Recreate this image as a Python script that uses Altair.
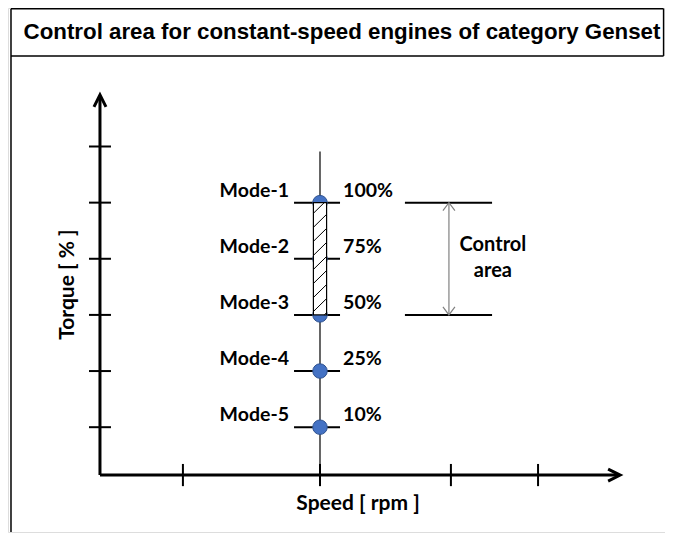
import altair as alt
import pandas as pd

# ---------------- data ----------------
title = "Control area for constant-speed engines of category Genset"
modes = ["Mode-1", "Mode-2", "Mode-3", "Mode-4", "Mode-5"]
torque_labels = ["100%", "75%", "50%", "25%", "10%"]
torque = [100, 75, 50, 25, 10]
mode_slot = [5, 4, 3, 2, 1]          # vertical slot of each mode on the torque axis
rated_speed = 1.0                    # constant engine speed (diagram units)
y_ticks = [1, 2, 3, 4, 5, 6]
x_ticks = [0.377, 1.0, 1.595, 1.991]
control_top, control_bottom = 5, 3   # slots of 100% and 50%
x_title = "Speed [ rpm ]"
y_title = "Torque [ % ]"

FONT = "Lato"
X = alt.Scale(domain=[-0.418, 2.568], nice=False, zero=False)
Y = alt.Scale(domain=[-0.867, 8.467], nice=False, zero=False)


def rules(df, width, color="black", cap="butt"):
    return alt.Chart(df).mark_rule(strokeWidth=width, color=color, strokeCap=cap).encode(
        x=alt.X("x:Q", scale=X, axis=None), x2="x2:Q",
        y=alt.Y("y:Q", scale=Y, axis=None), y2="y2:Q")


def texts(df, **kw):
    return alt.Chart(df).mark_text(**kw).encode(
        x=alt.X("x:Q", scale=X, axis=None),
        y=alt.Y("y:Q", scale=Y, axis=None),
        text="t:N")


def chevron(df, path, size, width, color="black"):
    return alt.Chart(df).mark_point(shape=path, size=size, filled=False,
                                    strokeWidth=width, color=color, opacity=1).encode(
        x=alt.X("x:Q", scale=X, axis=None), y=alt.Y("y:Q", scale=Y, axis=None))


# frame
frame = pd.DataFrame([
    dict(x=-0.4044, x2=-0.4044, y=-0.867, y2=8.453),
    dict(x=-0.4044, x2=2.5616, y=8.453, y2=8.453),
    dict(x=-0.4044, x2=2.5616, y=7.613, y2=7.613),
    dict(x=2.5616, x2=2.5616, y=7.613, y2=8.453),
])

# axes
axis_y0 = 0.147
axes = pd.DataFrame([
    dict(x=0, x2=0, y=axis_y0, y2=6.88),
    dict(x=0, x2=2.35, y=axis_y0, y2=axis_y0),
])
up_tip = pd.DataFrame([dict(x=0, y=6.92)])
right_tip = pd.DataFrame([dict(x=2.364, y=axis_y0)])

yt = pd.DataFrame([dict(x=-0.05, x2=0.05, y=v, y2=v) for v in y_ticks])
xt = pd.DataFrame([dict(x=v, x2=v, y=-0.05, y2=0.345) for v in x_ticks])

speed_line = pd.DataFrame([dict(x=rated_speed, x2=rated_speed, y=5.91, y2=axis_y0)])
mode_ticks = pd.DataFrame([dict(x=0.882, x2=1.091, y=s, y2=s) for s in mode_slot])

pts = pd.DataFrame(dict(x=[rated_speed] * 5, y=mode_slot, mode=modes, torque=torque))

# hatched control bar
bx0, bx1 = rated_speed - 0.03, rated_speed + 0.03
bar = pd.DataFrame([dict(x=bx0, x2=bx1, y=control_bottom, y2=control_top)])
rise, step = 0.231, 0.25
hatch = []
k = -1
while True:
    ys = control_bottom + 0.06 + k * step
    ye = ys + rise
    if ys >= control_top:
        break
    xs, xe = bx0, bx1
    if ys < control_bottom:
        xs = bx0 + (control_bottom - ys) / rise * (bx1 - bx0)
        ys = control_bottom
    if ye > control_top:
        xe = bx0 + (control_top - (ye - rise)) / rise * (bx1 - bx0)
        ye = control_top
    hatch.append(dict(x=xs, x2=xe, y=ys, y2=ye))
    k += 1
hatch = pd.DataFrame(hatch)

mode_txt = pd.DataFrame(dict(x=[0.859] * 5, y=[s + 0.213 for s in mode_slot], t=modes))
pct_txt = pd.DataFrame(dict(x=[1.105] * 5, y=[s + 0.213 for s in mode_slot], t=torque_labels))

ctrl_lines = pd.DataFrame([
    dict(x=1.386, x2=1.782, y=control_top, y2=control_top),
    dict(x=1.386, x2=1.782, y=control_bottom, y2=control_bottom),
])
ctrl_arrow = pd.DataFrame([dict(x=1.586, x2=1.586, y=control_bottom, y2=control_top)])
ctrl_up = pd.DataFrame([dict(x=1.586, y=control_top)])
ctrl_dn = pd.DataFrame([dict(x=1.586, y=control_bottom)])
ctrl_txt = pd.DataFrame(dict(x=[1.786, 1.786], y=[4.25, 3.78], t=["Control", "area"]))

title_df = pd.DataFrame(dict(x=[1.1], y=[8.04], t=[title]))
xt_df = pd.DataFrame(dict(x=[1.173], y=[-0.369], t=[x_title]))
yt_df = pd.DataFrame(dict(x=[-0.145], y=[3.54], t=[y_title]))

layers = [
    rules(frame, 1.5),
    texts(title_df, font="Liberation Sans", fontWeight="bold", fontSize=22.3, color="black"),
    rules(speed_line, 1.2),
    rules(mode_ticks, 2),
    rules(axes, 3),
    chevron(up_tip, "M-1,2L0,0L1,2", 144, 3),
    chevron(right_tip, "M-2,-1L0,0L-2,1", 144, 3),
    rules(yt, 2),
    rules(xt, 2),
    alt.Chart(pts).mark_point(shape="circle", filled=True, size=210, fill="#4472C4",
                              stroke="#2F528F", strokeWidth=1, opacity=1).encode(
        x=alt.X("x:Q", scale=X, axis=None), y=alt.Y("y:Q", scale=Y, axis=None)),
    alt.Chart(bar).mark_rect(fill="white", stroke="black", strokeWidth=1.2).encode(
        x=alt.X("x:Q", scale=X, axis=None), x2="x2:Q",
        y=alt.Y("y:Q", scale=Y, axis=None), y2="y2:Q"),
    rules(hatch, 1),
    texts(mode_txt, font=FONT, fontWeight="bold", fontSize=19.5, align="right", color="black"),
    texts(pct_txt, font=FONT, fontWeight="bold", fontSize=19.5, align="left", color="black"),
    rules(ctrl_lines, 2),
    rules(ctrl_arrow, 1.2, color="#808080"),
    chevron(ctrl_up, "M-1,1.33L0,0L1,1.33", 144, 1.2, color="#808080"),
    chevron(ctrl_dn, "M-1,-1.33L0,0L1,-1.33", 144, 1.2, color="#808080"),
    texts(ctrl_txt, font=FONT, fontWeight="bold", fontSize=20, align="center", color="black"),
    texts(xt_df, font=FONT, fontWeight="bold", fontSize=21, align="center", color="black"),
    texts(yt_df, font=FONT, fontWeight="bold", fontSize=21, align="center", angle=270, color="black"),
]

chart = alt.layer(*layers).properties(
    width=657, height=525, padding=0,
    autosize=alt.AutoSizeParams(type="fit", contains="padding"),
).configure_view(stroke=None).configure(background="white")

chart.save("out.html", embed_options={"renderer": "svg", "actions": False})
